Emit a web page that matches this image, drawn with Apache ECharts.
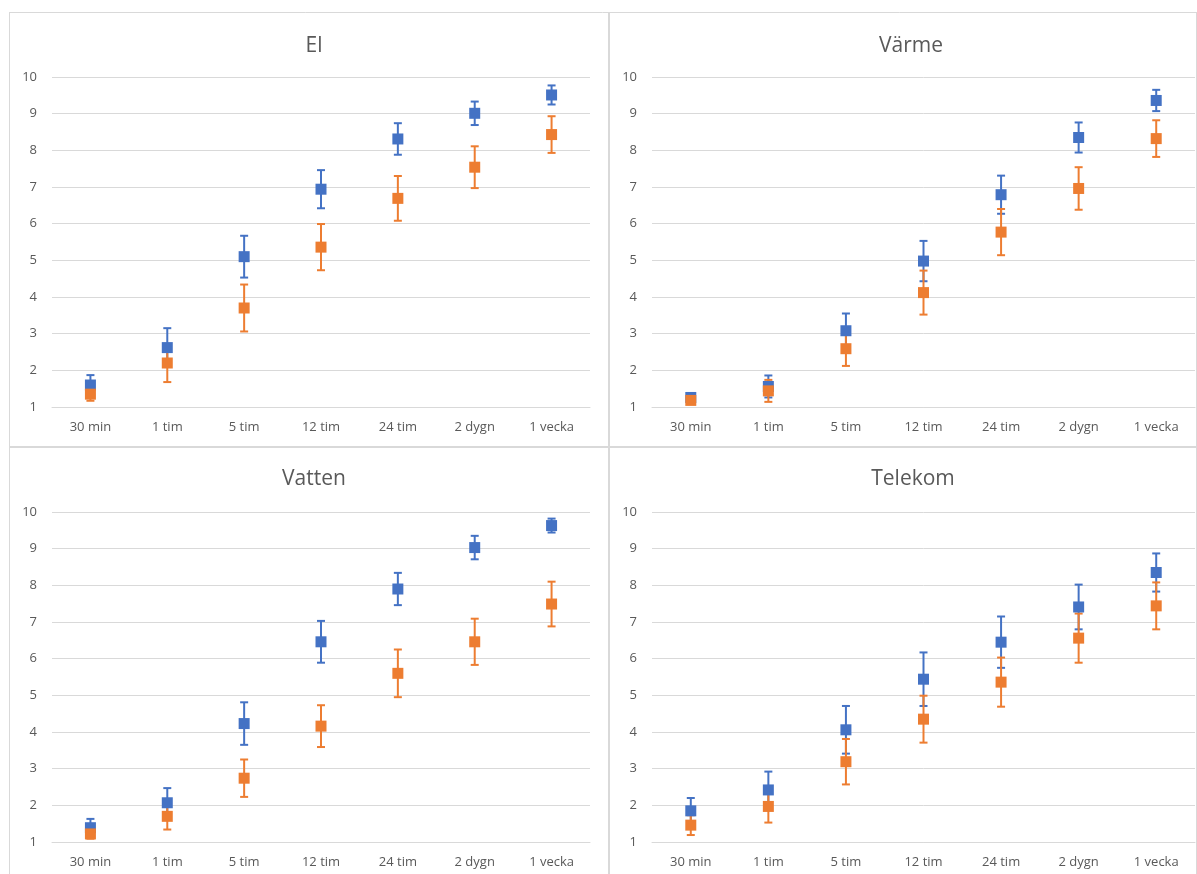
<!DOCTYPE html>
<html>
<head>
<meta charset="utf-8">
<script src="https://cdn.jsdelivr.net/npm/echarts@6/dist/echarts.min.js"></script>
<style>
  html, body { margin: 0; padding: 0; background: #fff; }
  #chart { width: 1197px; height: 874px; }
</style>
</head>
<body>
<div id="chart"></div>
<script>
// Time horizons on the x axis
const categories = ['30 min', '1 tim', '5 tim', '12 tim', '24 tim', '2 dygn', '1 vecka'];
const yTicks = [1, 2, 3, 4, 5, 6, 7, 8, 9, 10];
const panelTitles = ['El', 'Värme', 'Vatten', 'Telekom'];

// El
const elBlue      = [1.60, 2.62, 5.10, 6.94, 8.31, 9.01, 9.51];
const elBlueErr   = [0.27, 0.53, 0.57, 0.52, 0.43, 0.32, 0.26];
const elOrange    = [1.35, 2.20, 3.70, 5.36, 6.69, 7.54, 8.43];
const elOrangeErr = [0.18, 0.52, 0.64, 0.63, 0.61, 0.57, 0.50];

// Värme
const varmeBlue      = [1.26, 1.56, 3.08, 4.98, 6.79, 8.35, 9.36];
const varmeBlueErr   = [0.10, 0.30, 0.47, 0.55, 0.52, 0.41, 0.29];
const varmeOrange    = [1.18, 1.44, 2.59, 4.12, 5.77, 6.96, 8.32];
const varmeOrangeErr = [0.10, 0.30, 0.47, 0.60, 0.63, 0.58, 0.50];

// Vatten
const vattenBlue      = [1.39, 2.07, 4.23, 6.46, 7.90, 9.03, 9.63];
const vattenBlueErr   = [0.24, 0.40, 0.58, 0.57, 0.44, 0.32, 0.19];
const vattenOrange    = [1.22, 1.70, 2.74, 4.16, 5.60, 6.46, 7.49];
const vattenOrangeErr = [0.13, 0.36, 0.51, 0.57, 0.65, 0.63, 0.61];

// Telekom
const telekomBlue      = [1.85, 2.42, 4.06, 5.44, 6.45, 7.41, 8.35];
const telekomBlueErr   = [0.35, 0.50, 0.65, 0.73, 0.70, 0.61, 0.52];
const telekomOrange    = [1.46, 1.97, 3.19, 4.35, 5.36, 6.56, 7.44];
const telekomOrangeErr = [0.27, 0.44, 0.62, 0.64, 0.67, 0.67, 0.64];

const panels = [
  { blue: elBlue, blueErr: elBlueErr, orange: elOrange, orangeErr: elOrangeErr },
  { blue: varmeBlue, blueErr: varmeBlueErr, orange: varmeOrange, orangeErr: varmeOrangeErr },
  { blue: vattenBlue, blueErr: vattenBlueErr, orange: vattenOrange, orangeErr: vattenOrangeErr },
  { blue: telekomBlue, blueErr: telekomBlueErr, orange: telekomOrange, orangeErr: telekomOrangeErr }
];

const BLUE = '#4472C4';
const ORANGE = '#ED7D31';
const TEXT = '#595959';
const LINE = '#D9D9D9';
const FONT = '"Open Sans", "Noto Sans", sans-serif';

// Plot rectangles for the four panels (left, top, width, height)
const grids = [
  { left: 52,  top: 77,  width: 538, height: 330 },
  { left: 652, top: 77,  width: 543, height: 330 },
  { left: 52,  top: 512, width: 538, height: 330 },
  { left: 652, top: 512, width: 543, height: 330 }
];
const titlePos = [
  { x: 309, y: 31 },
  { x: 906, y: 31 },
  { x: 309, y: 464 },
  { x: 908, y: 464 }
];

// Vertical error bar with caps, drawn from value ± error
function errorSeries(idx, vals, errs, color, z) {
  return {
    type: 'custom',
    xAxisIndex: idx,
    yAxisIndex: idx,
    silent: true,
    z: z,
    data: vals.map((v, i) => [i, v, errs[i]]),
    encode: { x: 0, y: 1 },
    renderItem: function (params, api) {
      const i = api.value(0), v = api.value(1), e = api.value(2);
      const hi = api.coord([i, v + e]);
      const lo = api.coord([i, v - e]);
      const hw = 4;
      const st = { stroke: color, lineWidth: 2 };
      return {
        type: 'group',
        children: [
          { type: 'line', shape: { x1: hi[0], y1: hi[1], x2: lo[0], y2: lo[1] }, style: st },
          { type: 'line', shape: { x1: hi[0] - hw, y1: hi[1], x2: hi[0] + hw, y2: hi[1] }, style: st },
          { type: 'line', shape: { x1: lo[0] - hw, y1: lo[1], x2: lo[0] + hw, y2: lo[1] }, style: st }
        ]
      };
    }
  };
}

function pointSeries(idx, vals, color, z) {
  return {
    type: 'scatter',
    xAxisIndex: idx,
    yAxisIndex: idx,
    symbol: 'rect',
    symbolSize: 11,
    z: z,
    itemStyle: { color: color, opacity: 1 },
    data: vals.map((v, i) => [i, v])
  };
}

// Error bars sit under all markers; orange markers on top of blue ones
const series = [];
panels.forEach((p, k) => {
  series.push(errorSeries(k, p.blue, p.blueErr, BLUE, 2));
  series.push(errorSeries(k, p.orange, p.orangeErr, ORANGE, 2));
  series.push(pointSeries(k, p.blue, BLUE, 3));
  series.push(pointSeries(k, p.orange, ORANGE, 4));
});

const option = {
  backgroundColor: '#fff',
  animation: false,
  title: panelTitles.map((t, k) => ({
    text: t,
    left: titlePos[k].x,
    top: titlePos[k].y,
    textAlign: 'center',
    textStyle: { color: TEXT, fontSize: 21, fontWeight: 'normal', fontFamily: FONT }
  })),
  grid: grids.map(g => Object.assign({ containLabel: false }, g)),
  xAxis: grids.map((g, k) => ({
    type: 'category',
    gridIndex: k,
    data: categories,
    boundaryGap: true,
    axisLine: { lineStyle: { color: LINE, width: 1 } },
    axisTick: { show: false },
    axisLabel: { color: TEXT, fontSize: 13, fontFamily: FONT, margin: 14 }
  })),
  yAxis: grids.map((g, k) => ({
    type: 'value',
    gridIndex: k,
    min: yTicks[0],
    max: yTicks[yTicks.length - 1],
    interval: 1,
    axisLine: { show: false },
    axisTick: { show: false },
    splitLine: { lineStyle: { color: LINE, width: 1 } },
    axisLabel: { color: TEXT, fontSize: 13, fontFamily: FONT, margin: 15 }
  })),
  graphic: [
    // Panel frames
    { type: 'line', shape: { x1: 9, y1: 12.5, x2: 1196, y2: 12.5 }, style: { stroke: LINE, lineWidth: 1 } },
    { type: 'line', shape: { x1: 9.5, y1: 12, x2: 9.5, y2: 874 }, style: { stroke: LINE, lineWidth: 1 } },
    { type: 'line', shape: { x1: 1196.5, y1: 12, x2: 1196.5, y2: 874 }, style: { stroke: LINE, lineWidth: 1 } },
    { type: 'line', shape: { x1: 609, y1: 12, x2: 609, y2: 874 }, style: { stroke: LINE, lineWidth: 2 } },
    { type: 'line', shape: { x1: 9, y1: 447, x2: 1196, y2: 447 }, style: { stroke: LINE, lineWidth: 2 } }
  ],
  series: series
};

const chart = echarts.init(document.getElementById('chart'), null, { renderer: 'canvas' });
chart.setOption(option);
</script>
</body>
</html>
